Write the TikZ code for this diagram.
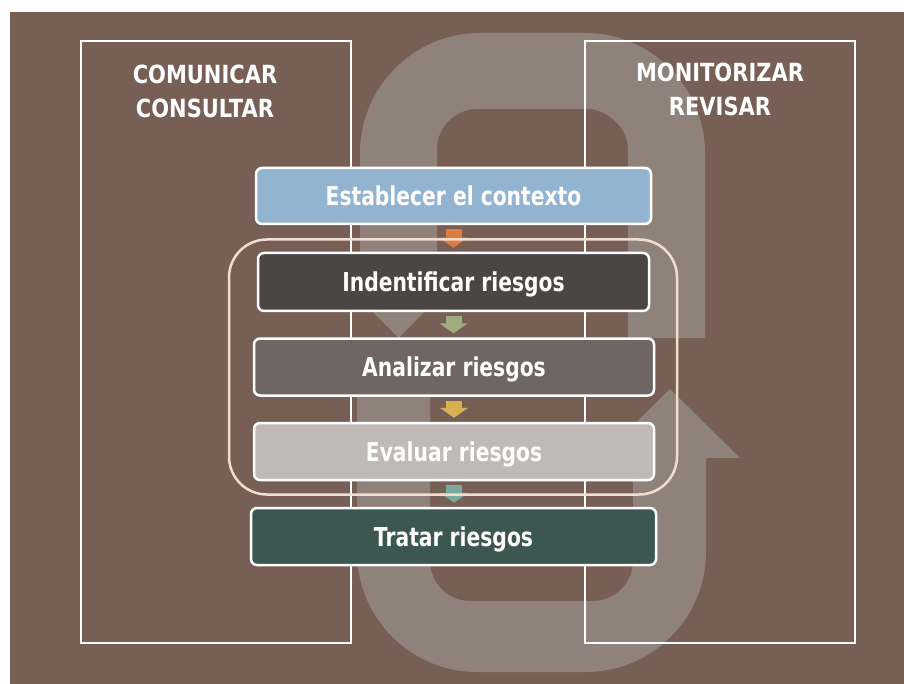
\documentclass[tikz,border=0pt]{standalone}
\usepackage{fontspec}
\newfontfamily\cfA[FakeStretch=0.84]{DejaVu Sans}
\newfontfamily\cfB[FakeStretch=0.78]{DejaVu Sans}
\usetikzlibrary{arrows.meta}
\definecolor{bg}{HTML}{785F55}
\definecolor{loopc}{HTML}{8F827B}
\definecolor{framec}{HTML}{F3DDCF}
\definecolor{cEst}{HTML}{93B4D1}
\definecolor{cInd}{HTML}{4B4544}
\definecolor{cAna}{HTML}{6F6563}
\definecolor{cEva}{HTML}{C1B9B8}
\definecolor{cTra}{HTML}{3C574F}
\definecolor{arO}{HTML}{E07B3F}
\definecolor{arG}{HTML}{9FAC82}
\definecolor{arY}{HTML}{D8B052}
\definecolor{arT}{HTML}{7AAA9E}
\begin{document}
\begin{tikzpicture}[x=1pt,y=-1pt,
  panel/.style={draw=white, line width=2.5pt, minimum width=270pt, minimum height=602pt, inner sep=0pt},
  titletxt/.style={text=white, font=\cfA\bfseries\fontsize{25}{34}\selectfont, align=center, inner sep=0pt},
  stepbox/.style={draw=white, line width=2.5pt, rounded corners=6pt, text=white,
    font=\cfB\bfseries\fontsize{26}{30}\selectfont, inner sep=0pt,
    text height=19pt, text depth=0pt},
  flow/.style={line width=16pt, -{Triangle[width=28pt,length=10pt]}, shorten <=4pt, shorten >=4pt}
]
\useasboundingbox (0,0) rectangle (904,684);
\fill[white] (0,0) rectangle (904,684);
\fill[bg] (10,12) rectangle (904,684);

% loop arrows
\fill[loopc] (628,338) -- (705,338) -- (705,153) .. controls (705,87) and (651,33) .. (585,33)
  -- (480,33) .. controls (414,33) and (360,87) .. (360,153) -- (360,299) -- (398.5,338) -- (437,299)
  -- (437,149) .. controls (437,127) and (455,109) .. (477,109) -- (588,109)
  .. controls (606,109) and (628,127) .. (628,149) -- cycle;
\fill[loopc] (357,397) -- (357,552) .. controls (357,618) and (411,672) .. (477,672)
  -- (586,672) .. controls (652,672) and (706,618) .. (706,552) -- (706,458) -- (740,458)
  -- (670,389) -- (600,458) -- (633,458) -- (633,561) .. controls (633,583) and (615,601) .. (593,601)
  -- (470,601) .. controls (448,601) and (430,583) .. (430,561) -- (430,397) -- cycle;

% side panels
\node[panel] (lp) at (216,342) {};
\node[panel] (rp) at (720,342) {};
\node[titletxt] (lt) at (205,91) {COMUNICAR\\CONSULTAR};
\node[titletxt] (rt) at (720,89.5) {MONITORIZAR\\REVISAR};

% steps
\node[stepbox, fill=cEst, minimum width=395pt, minimum height=56pt] (est) at (453.5,196) {Establecer el contexto};
\node[stepbox, fill=cInd, minimum width=391pt, minimum height=58pt] (ind) at (453.5,282) {Indentificar riesgos};
\node[stepbox, fill=cAna, minimum width=400pt, minimum height=57pt] (ana) at (454,367) {Analizar riesgos};
\node[stepbox, fill=cEva, minimum width=400pt, minimum height=57pt] (eva) at (454,451.5) {Evaluar riesgos};
\node[stepbox, fill=cTra, minimum width=405pt, minimum height=57pt] (tra) at (453.5,536.5) {Tratar riesgos};

% small arrows
\draw[flow, draw=arO] (est.south) -- (est.south |- ind.north);
\draw[flow, draw=arG] (ind.south) -- (ind.south |- ana.north);
\draw[flow, draw=arY] (ana.south) -- (ana.south |- eva.north);
\draw[flow, draw=arT] (eva.south) -- (eva.south |- tra.north);

% frame
\node[draw=framec, line width=2.5pt, rounded corners=38pt, minimum width=448pt, minimum height=255pt, inner sep=0pt] (frame) at (453,367) {};
\end{tikzpicture}
\end{document}
